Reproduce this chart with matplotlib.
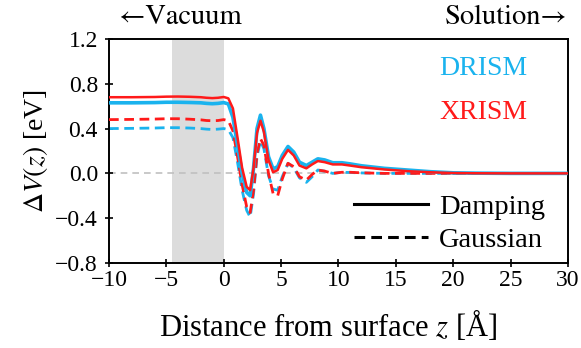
import matplotlib
matplotlib.use("Agg")
import matplotlib.pyplot as plt
from matplotlib.lines import Line2D

plt.rcParams['font.family'] = ['Liberation Serif', 'DejaVu Serif']
plt.rcParams['mathtext.fontset'] = 'stix'

# ---- data ----
z = [-10, -8, -6, -5, -4, -3, -2, -1.5, -1, -0.5, 0, 0.4, 0.8, 1.2, 1.6, 2.0, 2.3,
     2.6, 2.9, 3.2, 3.5, 3.9, 4.3, 4.7, 5.1, 5.6, 6.1, 6.6, 7.2, 7.7, 8.2, 8.8,
     9.5, 10.3, 11, 12, 14, 16, 18, 20, 22, 25, 30]

drism_damping = [0.630, 0.630, 0.632, 0.635, 0.635, 0.633, 0.630, 0.625, 0.622, 0.625, 0.632,
                 0.620, 0.500, 0.250, 0.000, -0.170, -0.200,
                 0.050, 0.400, 0.520, 0.400, 0.150, 0.040, 0.060, 0.160, 0.240, 0.190, 0.100,
                 0.070, 0.100, 0.130, 0.120, 0.095, 0.095, 0.085, 0.068, 0.045, 0.030, 0.015,
                 0.005, 0.002, 0.000, 0.000]

xrism_damping = [0.680, 0.680, 0.682, 0.685, 0.686, 0.684, 0.680, 0.675, 0.672, 0.675, 0.682,
                 0.670, 0.580, 0.320, 0.050, -0.120, -0.150,
                 0.050, 0.360, 0.470, 0.370, 0.120, 0.010, 0.030, 0.130, 0.210, 0.160, 0.070,
                 0.045, 0.080, 0.110, 0.100, 0.080, 0.080, 0.070, 0.055, 0.035, 0.020, 0.010,
                 0.003, 0.001, 0.000, 0.000]

drism_gauss = [0.400, 0.402, 0.405, 0.408, 0.408, 0.405, 0.400, 0.395, 0.392, 0.395, 0.400,
               0.390, 0.320, 0.100, -0.150, -0.330, -0.390,
               -0.180, 0.150, 0.290, 0.220, -0.020, -0.140, -0.150, -0.030, 0.090, 0.050, -0.040,
               -0.080, -0.030, 0.030, 0.020, 0.000, 0.010, 0.008, 0.004, 0.000, 0.000, 0.000,
               0.000, 0.000, 0.000, 0.000]

xrism_gauss = [0.480, 0.482, 0.485, 0.488, 0.488, 0.484, 0.478, 0.472, 0.470, 0.472, 0.480,
               0.470, 0.380, 0.150, -0.100, -0.300, -0.350,
               -0.150, 0.180, 0.310, 0.250, 0.000, -0.180, -0.200, -0.050, 0.090, 0.060, -0.030,
               -0.060, -0.010, 0.030, 0.020, 0.000, 0.010, 0.010, 0.005, 0.000, 0.000, 0.000,
               0.000, 0.000, 0.000, 0.000]

vacuum_band = (-4.5, 0.0)
xticks = [-10, -5, 0, 5, 10, 15, 20, 25, 30]
yticks = [-0.8, -0.4, 0.0, 0.4, 0.8, 1.2]

BLUE = '#1ab3ee'
RED = '#ff1a1a'

fig = plt.figure(figsize=(5.81, 3.48), dpi=100)
ax = fig.add_axes([0.1876, 0.2443, 0.79, 0.6437])

ax.axvspan(*vacuum_band, color='#dcdcdc', lw=0, zorder=0)
ax.axhline(0, color='#c0c0c0', lw=1.2, ls=(0, (4, 3)), zorder=1)

ax.plot(z, drism_gauss, color=BLUE, lw=2.0, ls=(0, (3.5, 2)), zorder=2)
ax.plot(z, xrism_gauss, color=RED, lw=2.0, ls=(0, (3.5, 2)), zorder=3)
ax.plot(z, drism_damping, color=BLUE, lw=2.6, zorder=4)
ax.plot(z, xrism_damping, color=RED, lw=1.8, zorder=5)

ax.set_xlim(-10, 30)
ax.set_ylim(-0.8, 1.2)
ax.set_xticks(xticks)
ax.set_yticks(yticks)
ax.set_xticklabels([f'{t}'.replace('-', '\u2212') for t in xticks])
ax.set_yticklabels([f'{t:.1f}'.replace('-', '\u2212') for t in yticks])
ax.tick_params(direction='inout', length=6, width=1.2, labelsize=17)
ax.tick_params(axis='x', pad=2)
ax.tick_params(axis='y', pad=5)
for s in ax.spines.values():
    s.set_linewidth(1.4)

ax.set_xlabel('Distance from surface $z$ [Å]', fontsize=22, labelpad=6)
ax.xaxis.set_label_coords(0.478, -0.2)
ax.xaxis.label.set_va('top')
ax.set_ylabel(r'$\Delta V(z)$ [eV]', fontsize=20, labelpad=4)

ax.text(22.6, 0.94, 'DRISM', color=BLUE, fontsize=20, ha='center', va='center')
ax.text(22.6, 0.545, 'XRISM', color=RED, fontsize=20, ha='center', va='center')

handles = [Line2D([], [], color='black', lw=2.2),
           Line2D([], [], color='black', lw=2.2, ls=(0, (3.5, 2)))]
ax.legend(handles, ['Damping', 'Gaussian'], loc='lower right', frameon=False,
          fontsize=20.5, handlelength=2.6, handletextpad=0.4, labelspacing=0.25,
          borderpad=0.0, borderaxespad=0.0, bbox_to_anchor=(0.95, 0.045))

fig.text(119 / 581, 1 - 17 / 348, '\u2190Vacuum', fontsize=20.5, ha='left', va='center',
         family=['STIXGeneral', 'Liberation Serif'])
fig.text(568 / 581, 1 - 17 / 348, 'Solution\u2192', fontsize=20.5, ha='right', va='center',
         family=['STIXGeneral', 'Liberation Serif'])

fig.savefig('out.png', dpi=100)
